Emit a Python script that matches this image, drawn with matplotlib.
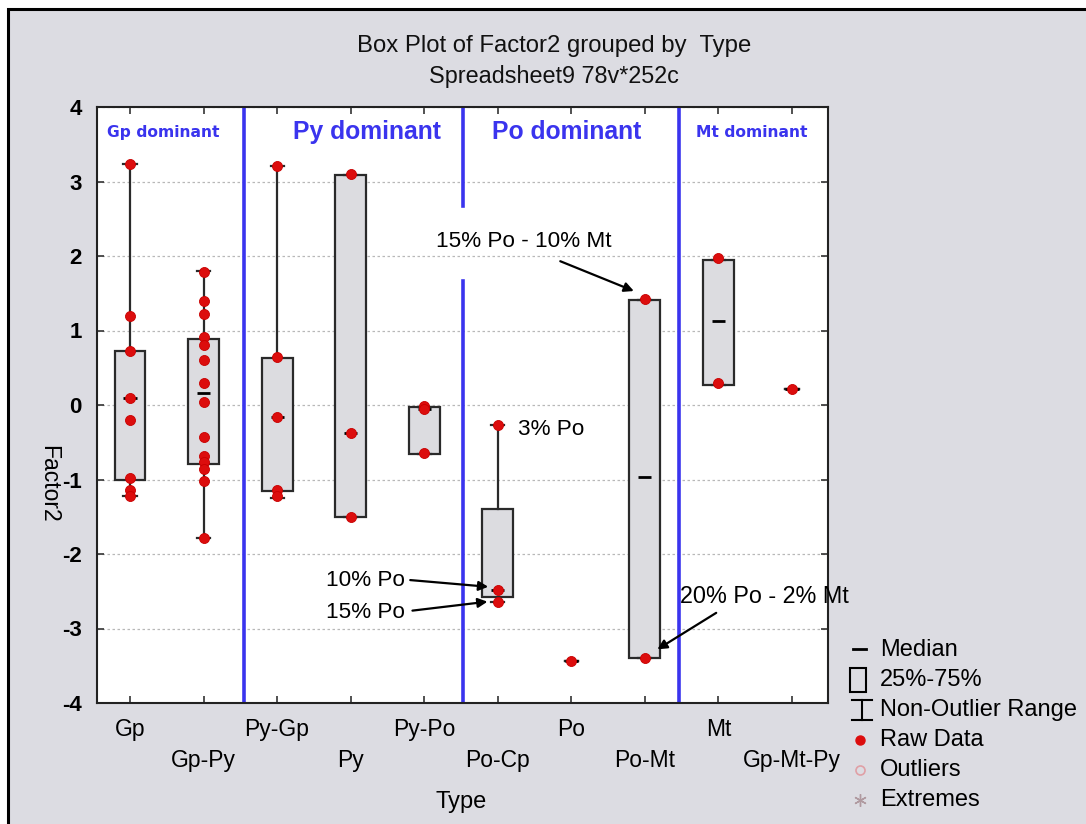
import numpy as np
import matplotlib
matplotlib.use("Agg")
import matplotlib.pyplot as plt
from matplotlib.lines import Line2D
from matplotlib.patches import Rectangle

plt.rcParams['font.family'] = ['Liberation Sans', 'DejaVu Sans']

# ---- data -------------------------------------------------------------
categories = ["Gp", "Gp-Py", "Py-Gp", "Py", "Py-Po",
              "Po-Cp", "Po", "Po-Mt", "Mt", "Gp-Mt-Py"]

raw_gp = [3.24, 1.20, 0.73, 0.09, -0.20, -0.98, -1.14, -1.22]
raw_gp_py = [1.78, 1.39, 1.22, 0.91, 0.80, 0.61, 0.29, 0.04,
             -0.43, -0.68, -0.77, -0.86, -1.02, -1.79]
raw_py_gp = [3.21, 0.64, -0.16, -1.14, -1.22]
raw_py = [3.10, -0.38, -1.50]
raw_py_po = [-0.02, -0.05, -0.64]
raw_po_cp = [-0.27, -2.48, -2.65]
raw_po = [-3.44]
raw_po_mt = [1.42, -3.39]
raw_mt = [1.97, 0.29]
raw_gp_mt_py = [0.21]

raw_data = [raw_gp, raw_gp_py, raw_py_gp, raw_py, raw_py_po,
            raw_po_cp, raw_po, raw_po_mt, raw_mt, raw_gp_mt_py]

q1 = [-1.00, -0.79, -1.16, -1.51, -0.66, -2.58, -3.44, -3.40, 0.27, 0.21]
median = [0.09, 0.16, -0.16, -0.38, -0.05, -2.48, -3.44, -0.96, 1.13, 0.21]
q3 = [0.73, 0.89, 0.63, 3.09, -0.03, -1.39, -3.44, 1.41, 1.95, 0.21]
whisker_low = [-1.22, -1.79, -1.25, -1.51, -0.66, -2.65, -3.44, -3.40, 0.27, 0.21]
whisker_high = [3.24, 1.80, 3.21, 3.09, -0.03, -0.27, -3.44, 1.41, 1.95, 0.21]

group_labels = ["Gp dominant", "Py dominant", "Po dominant", "Mt dominant"]

# ---- figure -----------------------------------------------------------
fig = plt.figure(figsize=(10.86, 8.24), dpi=100, facecolor="white")
W, H = 1086.0, 824.0

# grey panel with a black frame, kept behind the axes
panel = Rectangle((8 / W, -0.05), 1.2, 1 - 9 / H + 0.05,
                  transform=fig.transFigure, facecolor="#dcdce2",
                  edgecolor="black", linewidth=2.2, zorder=-10)
fig.add_artist(panel)

ax = fig.add_axes([97 / W, 1 - 703 / H, (828 - 97) / W, (703 - 107) / H])
ax.set_facecolor("white")

positions = np.arange(1, len(categories) + 1)
stats = []
for i in range(len(categories)):
    stats.append(dict(q1=q1[i], med=median[i], q3=q3[i],
                      whislo=whisker_low[i], whishi=whisker_high[i],
                      fliers=[], label=categories[i]))

widths = [0.18 if q1[i] == q3[i] else 0.42 for i in range(len(categories))]

ax.bxp(stats, positions=positions, widths=widths, capwidths=0.18,
       patch_artist=True, showfliers=False,
       boxprops=dict(facecolor="#dcdce0", edgecolor="#2a2a2a", linewidth=1.6),
       whiskerprops=dict(color="#2a2a2a", linewidth=1.6),
       capprops=dict(color="#2a2a2a", linewidth=1.6),
       medianprops=dict(visible=False), zorder=3)

# median dashes
ax.hlines(median, positions - 0.09, positions + 0.09, color="black",
          linewidth=2.0, zorder=4)

# raw data points
for pos, vals in zip(positions, raw_data):
    ax.plot(np.full(len(vals), pos), vals, "o", ms=7.2, color="#dc0d0d",
            markeredgecolor="#c80000", markeredgewidth=0.6, zorder=6)

ax.set_xlim(0.551, 10.49)
ax.set_ylim(-4, 4)
ax.set_yticks(np.arange(-4, 5, 1))
ax.set_yticklabels([str(v) for v in range(-4, 5)], fontsize=16, fontweight="bold")
ax.set_xticks(positions)
ax.set_xticklabels([c if i % 2 == 0 else "\n" + c for i, c in enumerate(categories)],
                   fontsize=16.5)
for lbl in ax.get_xticklabels():
    lbl.set_linespacing(1.42)
ax.tick_params(axis="both", direction="in", top=True, right=True,
               length=5, width=1.2, color="#333333")
ax.tick_params(axis="y", pad=11)
ax.tick_params(axis="x", pad=11)
ax.grid(axis="y", color="#b8b8b8", linestyle=(0, (2, 2)), linewidth=0.9)
ax.set_axisbelow(True)
for sp in ax.spines.values():
    sp.set_linewidth(1.5)
    sp.set_color("#222222")

# group separators
blue = "#3a34ee"
ax.axvline(2.55, color=blue, linewidth=2.6, zorder=2)
ax.axvline(5.53, ymin=(2.67 + 4) / 8, ymax=1, color=blue, linewidth=2.6, zorder=2)
ax.axvline(5.53, ymin=0, ymax=(1.66 + 4) / 8, color=blue, linewidth=2.6, zorder=2)
ax.axvline(8.46, color=blue, linewidth=2.6, zorder=2)

# group titles
ax.text(1.45, 3.66, group_labels[0], color=blue, fontsize=11.2,
        fontweight="bold", family="DejaVu Sans", ha="center", va="center")
ax.text(4.22, 3.66, group_labels[1], color=blue, fontsize=17.8,
        fontweight="bold", ha="center", va="center")
ax.text(6.93, 3.66, group_labels[2], color=blue, fontsize=17.8,
        fontweight="bold", ha="center", va="center")
ax.text(9.45, 3.66, group_labels[3], color=blue, fontsize=11.2,
        fontweight="bold", family="DejaVu Sans", ha="center", va="center")

# annotations
arrow = dict(arrowstyle="-|>", color="black", lw=1.6, mutation_scale=14,
             shrinkA=0, shrinkB=0)
ax.text(6.36, 2.19, "15% Po - 10% Mt", fontsize=16.2, ha="center", va="center")
ax.annotate("", xy=(7.85, 1.53), xytext=(6.85, 1.93), arrowprops=arrow)
ax.text(6.27, -0.33, "3% Po", fontsize=16.2, ha="left", va="center")
ax.text(4.74, -2.36, "10% Po", fontsize=16.2, ha="right", va="center")
ax.annotate("", xy=(5.87, -2.44), xytext=(4.81, -2.35), arrowprops=arrow)
ax.text(4.74, -2.78, "15% Po", fontsize=16.2, ha="right", va="center")
ax.annotate("", xy=(5.86, -2.64), xytext=(4.84, -2.76), arrowprops=arrow)
ax.text(9.63, -2.57, "20% Po - 2% Mt", fontsize=16.8, ha="center", va="center",
        clip_on=False)
ax.annotate("", xy=(8.17, -3.28), xytext=(8.97, -2.79), arrowprops=arrow)

# titles and axis labels
fig.text(554 / W, 1 - 46 / H, "Box Plot of Factor2 grouped by  Type",
         fontsize=17.2, ha="center", va="center", color="#111111")
fig.text(554 / W, 1 - 76 / H, "Spreadsheet9 78v*252c",
         fontsize=16.8, ha="center", va="center", color="#111111")
fig.text(461 / W, 1 - 802 / H, "Type", fontsize=17, ha="center", va="center")
fig.text(49 / W, 1 - 484 / H, "Factor2", fontsize=16.5, rotation=270,
         ha="center", va="center")

# legend (drawn in figure coordinates)
def fx(px):
    return px / W

def fy(py):
    return 1 - py / H

legend_items = ["Median", "25%-75%", "Non-Outlier Range", "Raw Data",
                "Outliers", "Extremes"]
rows = [650, 680, 710, 740, 770, 800]
for lab, r in zip(legend_items, rows):
    fig.text(fx(880), fy(r), lab, fontsize=17, ha="left", va="center")

fig.add_artist(Line2D([fx(853), fx(866)], [fy(649), fy(649)], color="black",
                      linewidth=2, transform=fig.transFigure))
fig.add_artist(Rectangle((fx(850), fy(692)), 16 / W, 24 / H, fill=False,
                         edgecolor="black", linewidth=1.5,
                         transform=fig.transFigure))
for seg in ([(852, 700), (872, 700)], [(862, 700), (862, 720)],
            [(852, 720), (872, 720)]):
    fig.add_artist(Line2D([fx(seg[0][0]), fx(seg[1][0])],
                          [fy(seg[0][1]), fy(seg[1][1])], color="black",
                          linewidth=1.5, transform=fig.transFigure))
fig.add_artist(Line2D([fx(860)], [fy(740)], marker="o", ms=6.5,
                      color="#dc0d0d", linestyle="none",
                      transform=fig.transFigure))
fig.add_artist(Line2D([fx(860)], [fy(770)], marker="o", ms=6.5,
                      markerfacecolor="none", markeredgecolor="#e0a0a6",
                      markeredgewidth=1.2, linestyle="none",
                      transform=fig.transFigure))
fig.add_artist(Line2D([fx(860)], [fy(800)], marker=(6, 2, 0), ms=9,
                      color="#b09aa0", markeredgewidth=1.0, linestyle="none",
                      transform=fig.transFigure))

fig.savefig("out.png", dpi=100, facecolor=fig.get_facecolor())
